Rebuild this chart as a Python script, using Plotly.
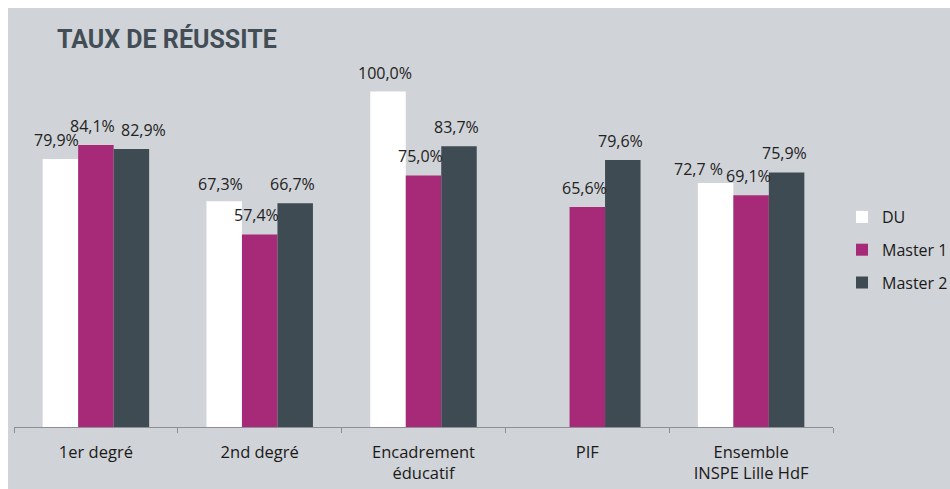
import plotly.graph_objects as go

categories = ["1er degré", "2nd degré", "Encadrement<br>éducatif", "PIF", "Ensemble<br>INSPE Lille HdF"]
series_names = ["DU", "Master 1", "Master 2"]
du = [79.9, 67.3, 100.0, None, 72.7]
master1 = [84.1, 57.4, 75.0, 65.6, 69.1]
master2 = [82.9, 66.7, 83.7, 79.6, 75.9]
label_override = {(0, 4): "72,7 %"}

colors = ["#ffffff", "#a72a78", "#3f4b53"]
BG = "#d0d3d7"

# figure geometry (pixels, figure coordinates; page keeps an 8px top/left margin)
W, H = 942, 481
L, R, T, B = 6, 117, 50, 62
pw, ph = W - L - R, H - T - B
bar_px = 36

# label nudges (style): (series, category) -> (dx, dy)
nudge = {(0, 4): (-14, -5), (2, 0): (15, 0), (0, 1): (0, -2)}


def px_x(p):
    return (p - L) / pw


def px_y(p):
    return (H - B - p) / ph


fig = go.Figure()
all_series = [du, master1, master2]
for i, (name, vals) in enumerate(zip(series_names, all_series)):
    fig.add_trace(go.Bar(
        x=categories, y=vals, name=name,
        marker=dict(color=colors[i], line=dict(width=0)),
        legendgroup=name,
        hoverinfo="skip",
    ))

annotations = []
for i, vals in enumerate(all_series):
    for j, v in enumerate(vals):
        if v is None:
            continue
        txt = label_override.get((i, j), f"{v:.1f}".replace(".", ",") + "%")
        dx, dy = nudge.get((i, j), (0, 0))
        annotations.append(dict(
            x=categories[j], y=v, xref="x", yref="y", text=txt, showarrow=False,
            xshift=(i - 1) * bar_px - 3 + dx, yshift=19 + dy,
            yanchor="middle", xanchor="center",
            font=dict(family="Open Sans", size=16, color="#222222"),
        ))

annotations.append(dict(
    x=px_x(47), y=px_y(31), xref="paper", yref="paper", text="<b>TAUX DE RÉUSSITE</b>",
    showarrow=False, xanchor="left", yanchor="middle",
    font=dict(family="Roboto", size=25, color="#434d55"),
))

fig.update_layout(
    width=W, height=H,
    margin=dict(l=L, r=R, t=T, b=B, pad=0, autoexpand=False),
    paper_bgcolor=BG,
    plot_bgcolor=BG,
    barmode="group",
    bargap=0.35,
    bargroupgap=0,
    showlegend=True,
    legend=dict(
        x=px_x(834), y=px_y(242), xanchor="left", yanchor="middle",
        font=dict(family="Open Sans", size=16, color="#1a1a1a"),
        bgcolor="rgba(0,0,0,0)", tracegroupgap=9,
        traceorder="grouped",
    ),
    xaxis=dict(
        showline=True, linecolor="#8c8f93", linewidth=1,
        ticks="outside", tickson="boundaries", ticklen=5, tickcolor="#8c8f93",
        tickfont=dict(family="Open Sans", size=16.5, color="#1a1a1a"),
        ticklabelstandoff=10,
        showgrid=False, zeroline=False, fixedrange=True,
    ),
    yaxis=dict(
        range=[0, 110], visible=False, showgrid=False, zeroline=False, fixedrange=True,
    ),
    annotations=annotations,
)

fig.write_html(
    "out.html",
    post_script="document.body.style.margin='8px 0 0 8px';document.body.style.overflow='hidden';",
)
